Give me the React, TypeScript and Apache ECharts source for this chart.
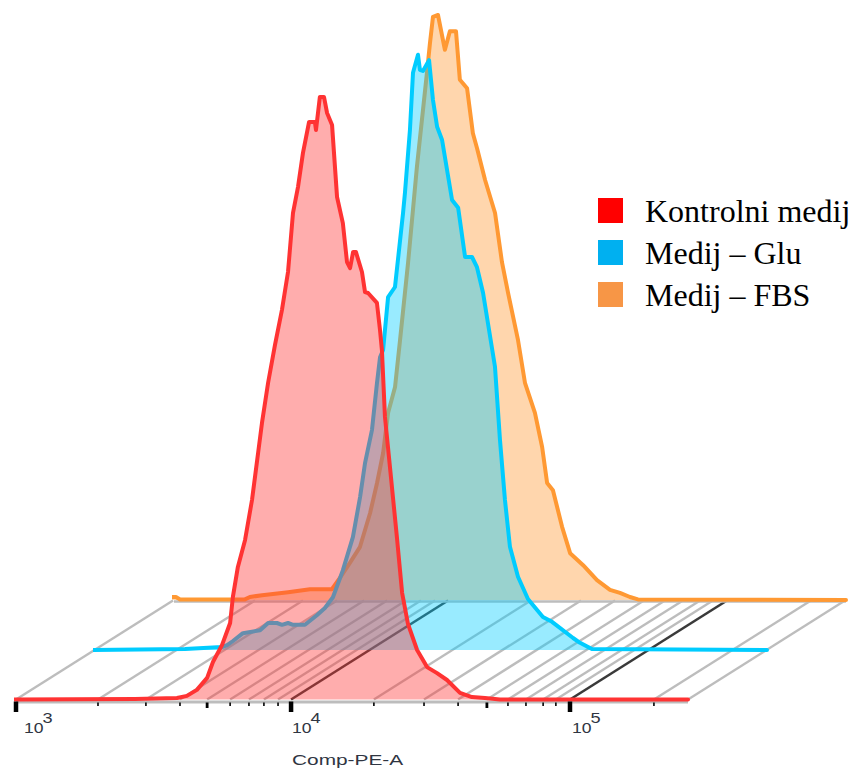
import React, { useEffect, useRef } from "react";
import * as echarts from "echarts";

const controlLog = [2.986,3.43,3.581,3.617,3.653,3.69,3.711,3.744,3.773,3.783,3.801,3.827,3.852,3.874,3.888,3.91,3.935,3.96,3.982,4.0,4.018,4.036,4.058,4.079,4.083,4.097,4.112,4.123,4.141,4.159,4.18,4.195,4.206,4.217,4.227,4.249,4.26,4.271,4.303,4.314,4.321,4.332,4.35,4.375,4.394,4.415,4.448,4.484,4.52,4.556,4.603,4.646,4.693,4.747,5.426];
const controlCount = [0,0.1,0.25,0.6,1.6,3.6,6.25,9.1,12.75,17.1,22.1,26.6,33.25,41.1,46.1,52.75,59.1,64.9,71.25,81.1,85.4,91.1,96.25,96.25,94.9,100.4,100.4,97.75,95.75,83.75,79.4,72.9,71.9,74.6,74.6,71.25,67.9,67.75,66.1,61.6,58.25,47.1,38.75,27.1,17.75,12.6,8.25,5.4,4.4,3.25,1.1,0.4,0.25,0,0];

const gluLog = [2.986,3.325,3.458,3.477,3.498,3.534,3.596,3.625,3.657,3.675,3.697,3.715,3.758,3.801,3.83,3.859,3.895,3.931,3.957,3.975,4.0,4.018,4.029,4.04,4.058,4.083,4.112,4.119,4.137,4.148,4.166,4.173,4.184,4.206,4.22,4.235,4.253,4.289,4.311,4.336,4.361,4.379,4.401,4.444,4.462,4.48,4.498,4.527,4.563,4.617,4.65,4.726,4.751,4.794,5.426];
const gluCount = [0,0.15,0.5,0.8,1.5,2.8,3.3,4.5,4.5,4.2,4.5,4.2,4.2,5.8,7,8.8,13.3,18.8,25.5,31.2,36.7,44.5,48.8,50,58.8,60.5,72.8,76.2,86.7,96.2,99.2,96.7,96.5,98.3,91.7,87.2,85,75,73.7,65.5,65.5,63.8,59.5,47.2,35,25,17.2,12.2,8.5,5.5,4.7,2,1.2,0.15,0];

const fbsLog = [2.986,3.007,3.022,3.256,3.274,3.318,3.412,3.491,3.57,3.599,3.635,3.671,3.708,3.733,3.755,3.773,3.798,3.816,3.845,3.877,3.913,3.924,3.935,3.953,3.978,3.996,4.018,4.032,4.058,4.079,4.094,4.123,4.159,4.184,4.206,4.242,4.267,4.303,4.329,4.347,4.368,4.401,4.43,4.477,4.527,4.574,4.61,4.646,4.675,5.426];
const fbsCount = [0.5,0.5,0.1,0.1,0.5,0.8,1.3,1.8,1.8,3.7,6.2,8.8,14.5,19.5,24.5,31.2,35.5,43.3,56.2,72.2,87.8,92.8,97.2,97.5,91.7,94.8,94.8,86.7,85.3,77.8,75.3,70,64.5,56.3,51.2,43.3,36.2,31.2,25.5,19.5,18.3,12.2,7.8,5.8,3.3,1.7,1.2,0.5,0.1,0];

const seriesNames = ["Kontrolni medij", "Medij – Glu", "Medij – FBS"];
const axisName = "Comp-PE-A";
const decadeTicks = [3, 3.993, 5];
const decadeExponents = ["3", "4", "5"];
const decadeLabelAt = [3.029, 3.996, 5.007];
const midTicks = [3.69, 4.7];
const minorTicks = [3.296,3.469,3.592,3.773,3.841,3.895,3.946,4.292,4.473,4.596,4.776,4.841,4.903,4.949,5.303];
const axisEnd = 5.426;

const W = 851;
const H = 772;
const LINE = ["#ff3333", "#00ccff", "#ff9933"];
const SWATCH = ["#ff0000", "#00b0f0", "#f79646"];
const GRAY = "#bdbdbd";
const TEXT = "#2f3542";
const DX = 157;
const DY = 99;

const pairs = (xs: number[], ys: number[]) => xs.map((x, i) => [x, ys[i]]);

function makeGrid(left: number, baseline: number) {
  return { left, top: baseline - 600, width: 672, height: 600, containLabel: false };
}

function lineSeries(i: number, xs: number[], ys: number[], gridIndex: number, z: number) {
  return {
    name: seriesNames[i],
    type: "line",
    xAxisIndex: gridIndex,
    yAxisIndex: gridIndex,
    data: pairs(xs, ys),
    showSymbol: false,
    symbol: "none",
    clip: false,
    z,
    itemStyle: { color: SWATCH[i] },
    lineStyle: { color: LINE[i], width: 4, join: "round", cap: "round" },
    areaStyle: { color: LINE[i], opacity: 0.4 },
    emphasis: { disabled: true },
    silent: true,
  };
}

export default function App() {
  const ref = useRef<HTMLDivElement>(null);
  useEffect(() => {
    const chart = echarts.init(ref.current!, undefined, { renderer: "svg" });
    const hiddenX = (gridIndex: number) => ({
      type: "value", gridIndex, min: 3, max: axisEnd, show: false,
    });
    const hiddenY = (gridIndex: number) => ({
      type: "value", gridIndex, min: 0, max: 100, show: false,
    });
    const floorLines = [3, ...decadeTicks.slice(1), ...midTicks, ...minorTicks, axisEnd];
    chart.setOption({
      animation: false,
      backgroundColor: "#ffffff",
      grid: [makeGrid(16, 699.5), makeGrid(95, 650), makeGrid(174, 600)],
      xAxis: [hiddenX(0), hiddenX(1), hiddenX(2)],
      yAxis: [hiddenY(0), hiddenY(1), hiddenY(2)],
      legend: {
        left: 598,
        top: 194.5,
        padding: 0,
        orient: "vertical",
        icon: "rect",
        itemWidth: 25,
        itemHeight: 25,
        itemGap: 10,
        selectedMode: false,
        data: seriesNames.map((name, i) => ({ name, itemStyle: { color: SWATCH[i] } })),
        textStyle: {
          fontFamily: "Liberation Serif",
          fontSize: 32,
          color: "#000000",
          padding: [0, 0, 0, 17],
          lineHeight: 25,
        },
      },
      graphic: [
        {
          type: "text",
          x: 292,
          y: 760,
          scaleX: 1.39,
          silent: true,
          style: {
            text: axisName,
            font: "15px 'Liberation Sans'",
            fill: TEXT,
            textAlign: "left",
            textVerticalAlign: "middle",
          },
        },
      ],
      series: [
        {
          type: "custom",
          name: "floor",
          xAxisIndex: 0,
          yAxisIndex: 0,
          z: 1,
          silent: true,
          clip: false,
          encode: { x: 0, y: 1 },
          data: floorLines.map((v) => [v, 0]),
          renderItem: (_p: any, api: any) => {
            const v = api.value(0);
            const [x, y] = api.coord([v, 0]);
            const dark = v === decadeTicks[1] || v === decadeTicks[2];
            return {
              type: "line",
              shape: { x1: x, y1: y, x2: x + DX, y2: y - DY },
              style: { stroke: dark ? "#3a3a3a" : GRAY, lineWidth: dark ? 2.6 : 2.4 },
            };
          },
        },
        {
          type: "custom",
          name: "backline",
          xAxisIndex: 2,
          yAxisIndex: 2,
          z: 1,
          silent: true,
          clip: false,
          encode: { x: 0, y: 1 },
          data: [[3, 0]],
          renderItem: (_p: any, api: any) => {
            const a = api.coord([3, 0]);
            const b = api.coord([axisEnd, 0]);
            return {
              type: "line",
              shape: { x1: a[0], y1: a[1] + 1.5, x2: b[0], y2: b[1] + 1.5 },
              style: { stroke: GRAY, lineWidth: 2.4 },
            };
          },
        },
        lineSeries(2, fbsLog, fbsCount, 2, 2),
        lineSeries(1, gluLog, gluCount, 1, 3),
        lineSeries(0, controlLog, controlCount, 0, 4),
        {
          type: "custom",
          name: "axis",
          xAxisIndex: 0,
          yAxisIndex: 0,
          z: 3,
          silent: true,
          clip: false,
          encode: { x: 0, y: 1 },
          data: [[3, 0]],
          renderItem: (_p: any, api: any) => {
            const a = api.coord([3, 0]);
            const b = api.coord([axisEnd, 0]);
            return {
              type: "line",
              shape: { x1: a[0], y1: a[1] + 2.5, x2: b[0], y2: b[1] + 2.5 },
              style: { stroke: GRAY, lineWidth: 2.8 },
            };
          },
        },
        {
          type: "custom",
          name: "ticks",
          xAxisIndex: 0,
          yAxisIndex: 0,
          z: 5,
          silent: true,
          clip: false,
          encode: { x: 0, y: 1 },
          data: [...decadeTicks, ...midTicks, ...minorTicks].map((v) => [v, 0]),
          renderItem: (_p: any, api: any) => {
            const v = api.value(0);
            const [x, y] = api.coord([v, 0]);
            const di = decadeTicks.indexOf(v);
            const mid = midTicks.includes(v);
            const top = di >= 0 ? 2 : 3;
            const len = di >= 0 ? 12.5 : mid ? 8.5 : 6.5;
            const width = di >= 0 ? 4.5 : mid ? 2.8 : 1.6;
            const children: any[] = [
              {
                type: "line",
                shape: { x1: x, y1: y + top, x2: x, y2: y + len },
                style: { stroke: "#000000", lineWidth: width },
              },
            ];
            if (di >= 0) {
              const lx = api.coord([decadeLabelAt[di], 0])[0];
              children.push(
                {
                  type: "text",
                  x: lx,
                  y: 727,
                  scaleX: 1.17,
                  style: {
                    text: "10",
                    font: "15px 'Liberation Sans'",
                    fill: TEXT,
                    textAlign: "left",
                    textVerticalAlign: "middle",
                  },
                },
                {
                  type: "text",
                  x: lx + 18.5,
                  y: 718,
                  scaleX: 1.3,
                  style: {
                    text: decadeExponents[di],
                    font: "14px 'Liberation Sans'",
                    fill: TEXT,
                    textAlign: "left",
                    textVerticalAlign: "middle",
                  },
                },
              );
            }
            return { type: "group", children };
          },
        },
      ],
    });
    return () => chart.dispose();
  }, []);
  return (
    <div
      ref={ref}
      style={{ position: "absolute", left: 0, top: 0, width: W, height: H }}
    />
  );
}
